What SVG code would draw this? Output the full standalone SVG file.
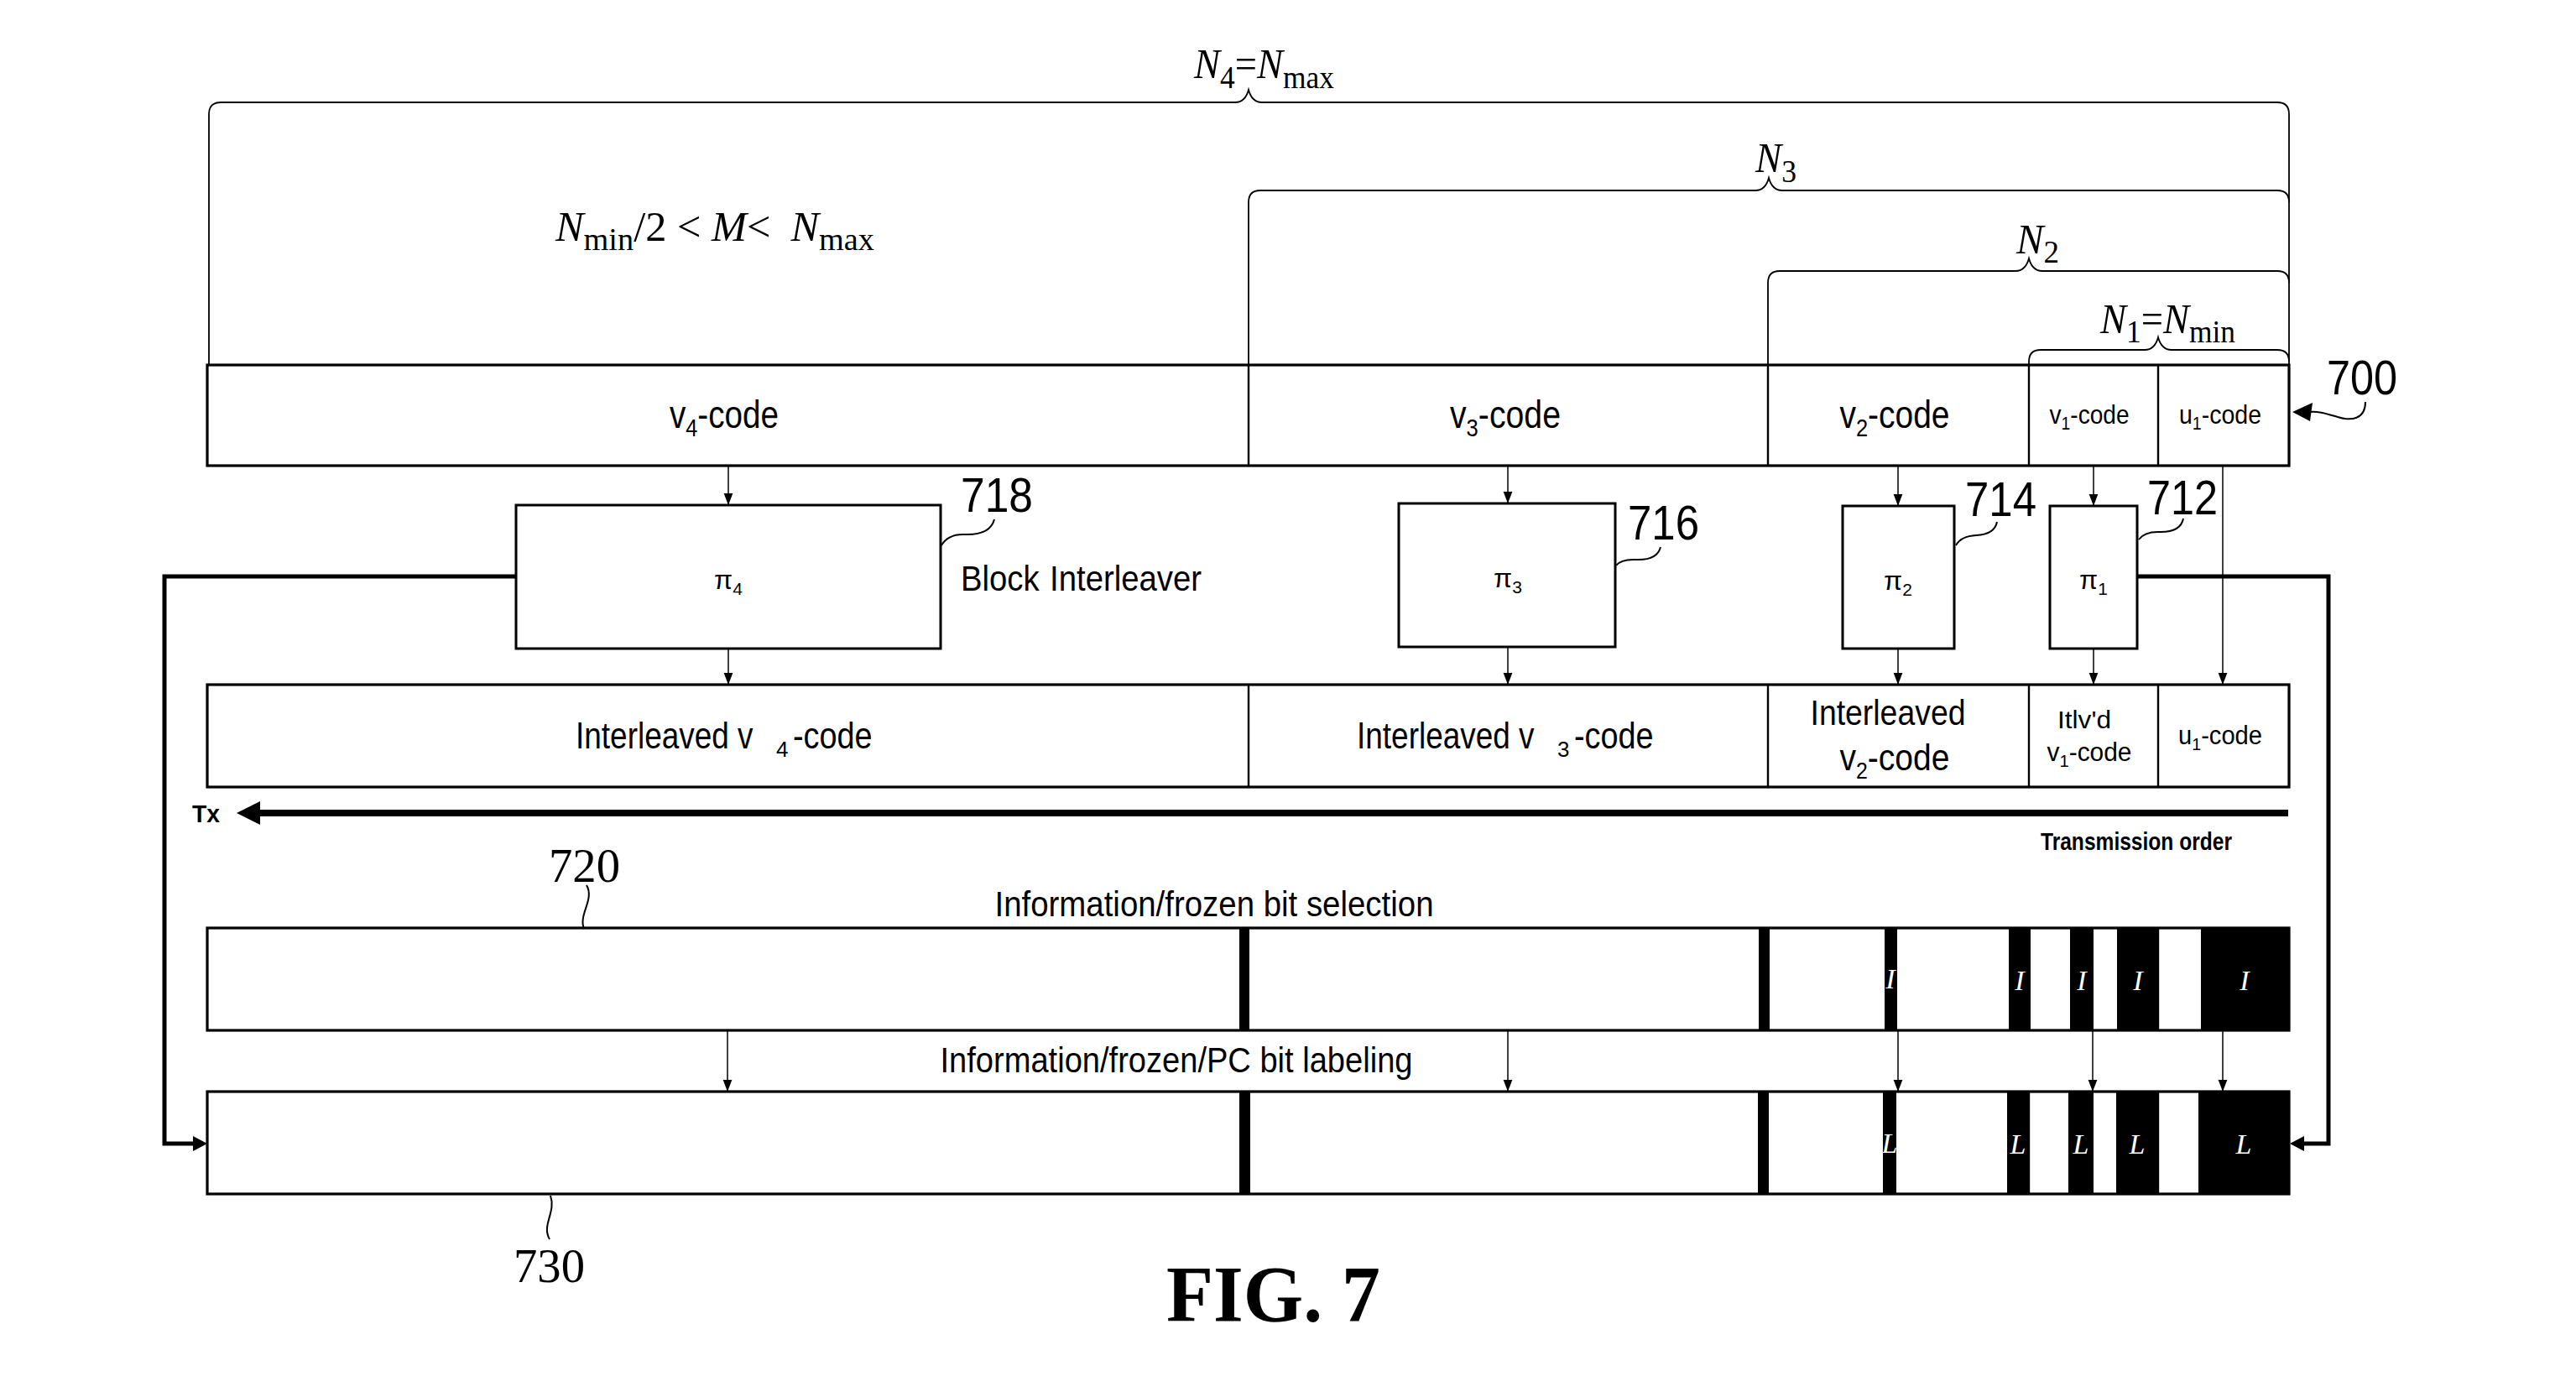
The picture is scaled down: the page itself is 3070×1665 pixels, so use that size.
<svg xmlns="http://www.w3.org/2000/svg" width="3070" height="1665" viewBox="0 0 3070 1665">
<style>
.row{fill:#fff;stroke:#000;stroke-width:3.2}
.dv{stroke:#000;stroke-width:2.4}
.box{fill:#fff;stroke:#000;stroke-width:3}
.brace{fill:none;stroke:#000;stroke-width:1.8}
.arr{stroke:#000;stroke-width:1.5;marker-end:url(#ah)}
.fb{stroke:#000;stroke-width:5;fill:none}
.lead{fill:none;stroke:#000;stroke-width:2}
.sans{font-family:"Liberation Sans Narrow","Liberation Sans",Arial,sans-serif;fill:#000}
.ls{font-family:"Liberation Sans",Arial,sans-serif;fill:#000}
.c{text-anchor:middle}
.big{font-size:46px}
.sm{font-size:32px}
.ref{font-size:58px}
.serif{font-family:"Liberation Serif","Times New Roman",serif;fill:#000}
.math{font-size:50px}
.it{font-style:italic}
.bar{fill:#000}
.wl{font-family:"Liberation Serif","Times New Roman",serif;font-style:italic;fill:#fff;font-size:34px;text-anchor:middle}
.pi{font-family:"Liberation Sans",Arial,sans-serif;font-size:32px;text-anchor:middle}
</style>
<defs>
<marker id="ah" markerUnits="userSpaceOnUse" markerWidth="14" markerHeight="18" refX="17" refY="6.5" orient="auto" viewBox="0 0 17 13">
<path d="M0,0 L17,6.5 L0,13 z" fill="#000"/>
</marker>
</defs>
<rect width="3070" height="1665" fill="#fff"/>

<g id="braces">
<path class="brace" d="M249 435 V136 Q249 122 263 122 H1472 Q1484 122 1488 107 Q1492 122 1504 122 H2714 Q2728 122 2728 136 V435"/>
<path class="brace" d="M1488 435 V241 Q1488 227 1502 227 H2092 Q2104 227 2108 212 Q2112 227 2124 227 H2714 Q2728 227 2728 241"/>
<path class="brace" d="M2107 435 V337 Q2107 323 2121 323 H2402 Q2414 323 2418 308 Q2422 323 2434 323 H2714 Q2728 323 2728 337"/>
<path class="brace" d="M2418 435 V431 Q2418 417 2432 417 H2556 Q2568 417 2572 402 Q2576 417 2588 417 H2714 Q2728 417 2728 431"/>
</g>

<g id="math-labels">
<text class="serif math" x="1423" y="93" textLength="167" lengthAdjust="spacingAndGlyphs"><tspan class="it">N</tspan><tspan font-size="38" dy="12">4</tspan><tspan dy="-12">=</tspan><tspan class="it">N</tspan><tspan font-size="38" dy="12">max</tspan></text>
<text class="serif math" x="662" y="287" textLength="380" lengthAdjust="spacingAndGlyphs"><tspan class="it">N</tspan><tspan font-size="38" dy="11">min</tspan><tspan dy="-11">/2 &lt; </tspan><tspan class="it">M</tspan><tspan>&lt;</tspan><tspan class="it" dx="24">N</tspan><tspan font-size="38" dy="11">max</tspan></text>
<text class="serif math" x="2092" y="205" textLength="49" lengthAdjust="spacingAndGlyphs"><tspan class="it">N</tspan><tspan font-size="38" dy="12">3</tspan></text>
<text class="serif math" x="2403" y="302" textLength="51" lengthAdjust="spacingAndGlyphs"><tspan class="it">N</tspan><tspan font-size="38" dy="11">2</tspan></text>
<text class="serif math" x="2503" y="397" textLength="161" lengthAdjust="spacingAndGlyphs"><tspan class="it">N</tspan><tspan font-size="38" dy="11">1</tspan><tspan dy="-11">=</tspan><tspan class="it">N</tspan><tspan font-size="38" dy="11">min</tspan></text>
</g>

<g id="row-700">
<rect class="row" x="247" y="435" width="2481" height="120"/>
<line class="dv" x1="1488" y1="435" x2="1488" y2="555"/>
<line class="dv" x1="2107" y1="435" x2="2107" y2="555"/>
<line class="dv" x1="2418" y1="435" x2="2418" y2="555"/>
<line class="dv" x1="2572" y1="435" x2="2572" y2="555"/>
<text class="sans big c" x="863" y="510" textLength="130" lengthAdjust="spacingAndGlyphs">v<tspan font-size="30" dy="10">4</tspan><tspan dy="-10">-code</tspan></text>
<text class="sans big c" x="1794" y="510" textLength="132" lengthAdjust="spacingAndGlyphs">v<tspan font-size="30" dy="10">3</tspan><tspan dy="-10">-code</tspan></text>
<text class="sans big c" x="2258" y="510" textLength="131" lengthAdjust="spacingAndGlyphs">v<tspan font-size="30" dy="10">2</tspan><tspan dy="-10">-code</tspan></text>
<text class="sans sm c" x="2490" y="505" textLength="95" lengthAdjust="spacingAndGlyphs">v<tspan font-size="22" dy="7">1</tspan><tspan dy="-7">-code</tspan></text>
<text class="sans sm c" x="2646" y="505" textLength="98" lengthAdjust="spacingAndGlyphs">u<tspan font-size="22" dy="7">1</tspan><tspan dy="-7">-code</tspan></text>
</g>

<g id="label-700">
<text class="sans ref" x="2773" y="470" textLength="84" lengthAdjust="spacingAndGlyphs">700</text>
<path class="lead" d="M2819 479 C2819 500 2802 502 2786 497 C2772 493 2764 490 2752 491"/>
<polygon points="2732,491 2756,480 2753,502" fill="#000"/>
</g>

<g id="pi4">
<rect class="box" x="615" y="602" width="506" height="171"/>
<text class="pi" x="868" y="702">π<tspan font-size="21" dy="7">4</tspan></text>
<text class="sans ref" x="1145" y="610" textLength="86" lengthAdjust="spacingAndGlyphs">718</text>
<path class="lead" d="M1122 650 Q1130 636 1150 637 Q1180 638 1185 619"/>
<text class="sans" font-size="43" x="1145" y="704" textLength="287" lengthAdjust="spacingAndGlyphs">Block<tspan dx="14">Interleaver</tspan></text>
</g>
<g id="pi3">
<rect class="box" x="1667" y="600" width="258" height="171"/>
<text class="pi" x="1797" y="700">π<tspan font-size="21" dy="7">3</tspan></text>
<text class="sans ref" x="1940" y="643" textLength="85" lengthAdjust="spacingAndGlyphs">716</text>
<path class="lead" d="M1926 674 Q1932 666 1950 667 Q1975 668 1979 652"/>
</g>
<g id="pi2">
<rect class="box" x="2196" y="603" width="133" height="170"/>
<text class="pi" x="2262" y="703">π<tspan font-size="21" dy="7">2</tspan></text>
<text class="sans ref" x="2342" y="615" textLength="85" lengthAdjust="spacingAndGlyphs">714</text>
<path class="lead" d="M2331 650 Q2337 639 2355 638 Q2377 637 2380 622"/>
</g>
<g id="pi1">
<rect class="box" x="2443" y="603" width="104" height="170"/>
<text class="pi" x="2495" y="702">π<tspan font-size="21" dy="7">1</tspan></text>
<text class="sans ref" x="2559" y="613" textLength="84" lengthAdjust="spacingAndGlyphs">712</text>
<path class="lead" d="M2549 643 Q2556 633 2575 634 Q2599 634 2602 618"/>
</g>

<g id="row-interleaved">
<rect class="row" x="247" y="816" width="2481" height="122"/>
<line class="dv" x1="1488" y1="816" x2="1488" y2="938"/>
<line class="dv" x1="2107" y1="816" x2="2107" y2="938"/>
<line class="dv" x1="2418" y1="816" x2="2418" y2="938"/>
<line class="dv" x1="2572" y1="816" x2="2572" y2="938"/>
<text class="ls" font-size="44" transform="translate(686 892) scale(0.84 1)">Interleaved v</text>
<text class="ls" font-size="26" x="925" y="902">4</text>
<text class="ls" font-size="44" transform="translate(945 892) scale(0.86 1)">-code</text>
<text class="ls" font-size="44" transform="translate(1617 892) scale(0.84 1)">Interleaved v</text>
<text class="ls" font-size="26" x="1856" y="902">3</text>
<text class="ls" font-size="44" transform="translate(1876 892) scale(0.86 1)">-code</text>
<text class="sans c" font-size="43" x="2250" y="864" textLength="185" lengthAdjust="spacingAndGlyphs">Interleaved</text>
<text class="sans c" font-size="44" x="2258" y="918" textLength="131" lengthAdjust="spacingAndGlyphs">v<tspan font-size="28" dy="10">2</tspan><tspan dy="-10">-code</tspan></text>
<text class="sans c" font-size="30" x="2484" y="868" textLength="64" lengthAdjust="spacingAndGlyphs">Itlv'd</text>
<text class="sans c" font-size="31" x="2490" y="907" textLength="101" lengthAdjust="spacingAndGlyphs">v<tspan font-size="21" dy="7">1</tspan><tspan dy="-7">-code</tspan></text>
<text class="sans c" font-size="31" x="2646" y="887" textLength="100" lengthAdjust="spacingAndGlyphs">u<tspan font-size="21" dy="7">1</tspan><tspan dy="-7">-code</tspan></text>
</g>

<g id="tx">
<line x1="2727" y1="969" x2="300" y2="969" stroke="#000" stroke-width="8"/>
<polygon points="282,969 310,955 310,983" fill="#000"/>
<text class="sans" font-size="29" font-weight="bold" x="229" y="980" textLength="33" lengthAdjust="spacingAndGlyphs">Tx</text>
<text class="sans" font-size="29" font-weight="bold" x="2432" y="1013" textLength="228" lengthAdjust="spacingAndGlyphs">Transmission order</text>
</g>

<g id="row-720">
<text class="sans c" font-size="42" x="1447" y="1092" textLength="523" lengthAdjust="spacingAndGlyphs">Information/frozen bit selection</text>
<rect class="row" x="247" y="1106" width="2481" height="122"/>
<line class="dv" x1="2418" y1="1106" x2="2418" y2="1228"/>
<line class="dv" x1="2572" y1="1106" x2="2572" y2="1228"/>
<rect class="bar" x="1477" y="1106" width="12" height="122"/>
<rect class="bar" x="2096" y="1106" width="13" height="122"/>
<rect class="bar" x="2246" y="1106" width="15" height="122"/>
<rect class="bar" x="2394" y="1106" width="26" height="122"/>
<rect class="bar" x="2467" y="1106" width="28" height="122"/>
<rect class="bar" x="2523" y="1106" width="50" height="122"/>
<rect class="bar" x="2623" y="1106" width="105" height="122"/>
<text class="wl" font-size="26" x="2253" y="1178">I</text>
<text class="wl" x="2407" y="1180">I</text>
<text class="wl" x="2481" y="1180">I</text>
<text class="wl" x="2548" y="1180">I</text>
<text class="wl" x="2675" y="1180">I</text>
<text class="serif" font-size="58" x="654" y="1051" textLength="85" lengthAdjust="spacingAndGlyphs">720</text>
<path class="lead" d="M699 1055 C709 1072 689 1090 696 1107"/>
</g>

<g id="row-730">
<text class="sans c" font-size="42" x="1402" y="1278" textLength="563" lengthAdjust="spacingAndGlyphs">Information/frozen/PC bit labeling</text>
<rect class="row" x="247" y="1301" width="2481" height="122"/>
<line class="dv" x1="2418" y1="1301" x2="2418" y2="1423"/>
<line class="dv" x1="2572" y1="1301" x2="2572" y2="1423"/>
<rect class="bar" x="1477" y="1301" width="13" height="122"/>
<rect class="bar" x="2095" y="1301" width="13" height="122"/>
<rect class="bar" x="2244" y="1301" width="16" height="122"/>
<rect class="bar" x="2392" y="1301" width="26" height="122"/>
<rect class="bar" x="2465" y="1301" width="30" height="122"/>
<rect class="bar" x="2522" y="1301" width="50" height="122"/>
<rect class="bar" x="2620" y="1301" width="108" height="122"/>
<text class="wl" font-size="26" x="2252" y="1374">L</text>
<text class="wl" x="2405" y="1375">L</text>
<text class="wl" x="2480" y="1375">L</text>
<text class="wl" x="2547" y="1375">L</text>
<text class="wl" x="2674" y="1375">L</text>
<text class="serif" font-size="58" x="612" y="1528" textLength="85" lengthAdjust="spacingAndGlyphs">730</text>
<path class="lead" d="M656 1425 C663 1445 645 1460 655 1477"/>
</g>

<g id="connectors">
<line class="arr" x1="868" y1="555" x2="868" y2="602"/>
<line class="arr" x1="1797" y1="555" x2="1797" y2="600"/>
<line class="arr" x1="2262" y1="555" x2="2262" y2="603"/>
<line class="arr" x1="2495" y1="555" x2="2495" y2="603"/>
<line class="arr" x1="2649" y1="555" x2="2649" y2="816"/>
<line class="arr" x1="868" y1="773" x2="868" y2="816"/>
<line class="arr" x1="1797" y1="771" x2="1797" y2="816"/>
<line class="arr" x1="2262" y1="773" x2="2262" y2="816"/>
<line class="arr" x1="2495" y1="773" x2="2495" y2="816"/>
<line class="arr" x1="867" y1="1228" x2="867" y2="1301"/>
<line class="arr" x1="1797" y1="1228" x2="1797" y2="1301"/>
<line class="arr" x1="2262" y1="1228" x2="2262" y2="1301"/>
<line class="arr" x1="2494" y1="1228" x2="2494" y2="1301"/>
<line class="arr" x1="2649" y1="1228" x2="2649" y2="1301"/>
<polyline class="fb" points="615,687 196,687 196,1363 232,1363"/>
<polygon points="247,1363 230,1354 230,1372" fill="#000"/>
<polyline class="fb" points="2547,687 2775,687 2775,1363 2745,1363"/>
<polygon points="2729,1363 2746,1354 2746,1372" fill="#000"/>
</g>

<g id="caption">
<text class="serif" font-size="96" font-weight="bold" x="1390" y="1575" textLength="255" lengthAdjust="spacingAndGlyphs">FIG. 7</text>
</g>
</svg>
